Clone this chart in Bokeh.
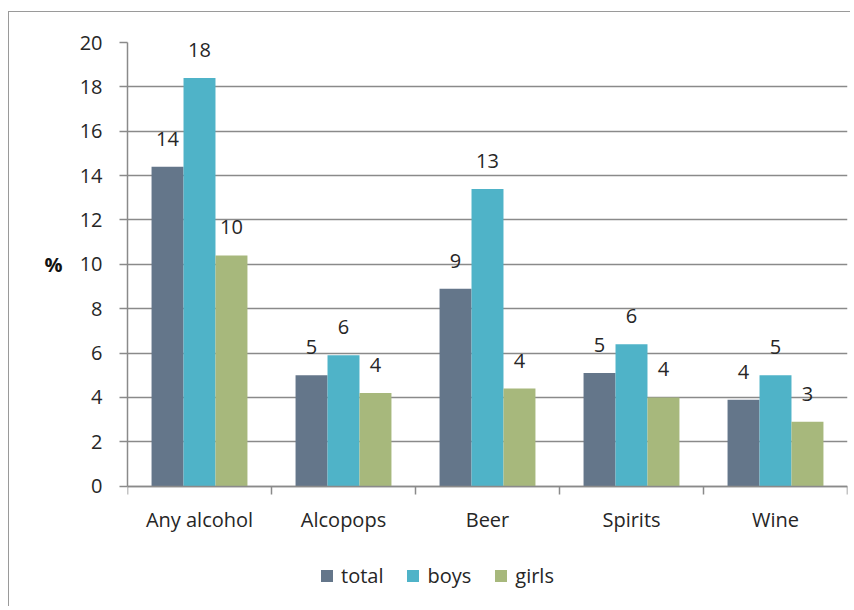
from bokeh.plotting import figure
from bokeh.models import (Range1d, FixedTicker, Legend, LegendItem, ColumnDataSource,
                          LinearAxis)
from bokeh.core.properties import value
from bokeh.embed import file_html
from bokeh.resources import INLINE

categories = ["Any alcohol", "Alcopops", "Beer", "Spirits", "Wine"]
series = ["total", "boys", "girls"]
total = [14.4, 5.0, 8.9, 5.1, 3.9]
boys = [18.4, 5.9, 13.4, 6.4, 5.0]
girls = [10.4, 4.2, 4.4, 4.0, 2.9]
y_ticks = [0, 2, 4, 6, 8, 10, 12, 14, 16, 18, 20]
y_title = "%"
y_title_at = 10

colors = ["#64768a", "#4fb3c8", "#a7b87c"]
FONT = "Open Sans"
TXT = "#262626"
GRID = "#8a8a8a"
LW = 1.5

# the frame is extended below zero so that the legend (drawn inside the frame) is visible
p = figure(width=842, height=595, output_backend="svg", toolbar_location=None,
           x_range=Range1d(-0.5, len(categories) - 0.5), y_range=Range1d(-5.47, 20),
           min_border_left=118, min_border_right=4, min_border_top=30, min_border_bottom=0,
           styles={"border-left": "1.5px solid #9a9a9a", "border-top": "1.5px solid #9a9a9a"})
p.margin = (11, 0, 0, 8)
p.outline_line_color = None
p.xgrid.grid_line_color = None
p.ygrid.grid_line_color = GRID
p.ygrid.grid_line_width = LW
p.ygrid.ticker = FixedTicker(ticks=y_ticks)

bw = 0.222
offsets = [-bw, 0, bw]
items = []
for vals, name, col, off in zip([total, boys, girls], series, colors, offsets):
    xs = [i + off for i in range(len(categories))]
    src = ColumnDataSource(dict(x=xs, top=vals, lab=[f"{int(v + 0.5)}" for v in vals]))
    r = p.vbar(x="x", top="top", width=bw, bottom=0, source=src,
               fill_color=col, line_color=None)
    p.text(x="x", y="top", text="lab", source=src, text_align="center",
           text_baseline="alphabetic", y_offset=-28, text_font=value(FONT),
           text_font_size="20px", text_color=TXT)
    items.append(LegendItem(label=name, renderers=[r]))

# x axis at y=0: labels at category centers, ticks at category boundaries
xa = p.xaxis[0]
xa.fixed_location = 0
xa.ticker = FixedTicker(ticks=list(range(len(categories))),
                        minor_ticks=[i - 0.5 for i in range(len(categories) + 1)])
xa.major_label_overrides = {i: c for i, c in enumerate(categories)}
xa.major_tick_out = 0
xa.major_tick_in = 0
xa.minor_tick_out = 8
xa.minor_tick_in = 0
xa.minor_tick_line_color = GRID
xa.minor_tick_line_width = LW
xa.axis_line_color = GRID
xa.axis_line_width = LW
xa.major_label_standoff = 12
xa.major_label_text_font = FONT
xa.major_label_text_font_size = "20px"
xa.major_label_text_color = TXT

ya = p.yaxis[0]
ya.bounds = (0, 20)
ya.ticker = FixedTicker(ticks=y_ticks)
ya.major_tick_out = 8
ya.major_tick_in = 0
ya.minor_tick_line_color = None
ya.major_tick_line_color = GRID
ya.major_tick_line_width = LW
ya.axis_line_color = GRID
ya.axis_line_width = LW
ya.major_label_standoff = 17
ya.major_label_text_font = FONT
ya.major_label_text_font_size = "20px"
ya.major_label_text_color = TXT

# "%" title beside the 10 tick
ta = LinearAxis(ticker=FixedTicker(ticks=[y_title_at]),
                major_label_overrides={y_title_at: y_title},
                axis_line_color=None, major_tick_line_color=None, minor_tick_line_color=None,
                major_tick_out=0, major_tick_in=0, major_label_standoff=14,
                major_label_text_font=FONT, major_label_text_font_size="20px",
                major_label_text_font_style="bold", major_label_text_color="#111111")
p.add_layout(ta, "left")

legend = Legend(items=items, orientation="horizontal", location=(192, 18),
                glyph_width=15, glyph_height=15, label_standoff=7, spacing=22,
                padding=0, margin=0, border_line_color=None, background_fill_alpha=0,
                label_text_font=FONT, label_text_font_size="20px", label_text_color=TXT)
p.add_layout(legend, "center")

open("out.html", "w").write(file_html(p, INLINE))
